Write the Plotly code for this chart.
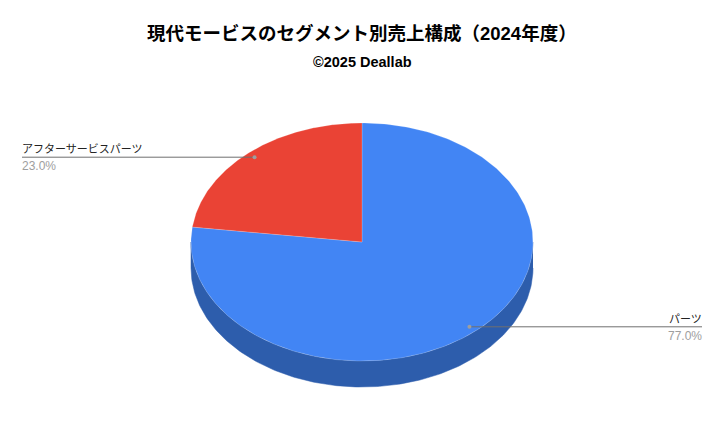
import numpy as np
import plotly.graph_objects as go

categories = ["パーツ", "アフターサービスパーツ"]
shares = [77.0, 23.0]
top_colors = ["#4285f4", "#ea4335"]
side_colors = ["#2d5dac", "#a42f25"]

FONT = "Liberation Sans, Noto Sans CJK JP, sans-serif"

# pie is drawn in pixel coordinates so the tilt can be faked with an ellipse
cx, cy = 362, 242
rx, ry = 171, 119
depth = 26


def pos(deg, k=1.0):
    a = np.radians(deg)
    return cx + k * rx * np.sin(a), cy - k * ry * np.cos(a)


fig = go.Figure()

# side wall first, only the front half can be seen
start = 0
for share, side in zip(shares, side_colors):
    end = start + share * 3.6
    lo, hi = max(start, 90), min(end, 270)
    if hi > lo:
        t = np.linspace(lo, hi, 200)
        x, y = pos(t)
        fig.add_trace(go.Scatter(
            x=np.r_[x, x[::-1]],
            y=np.r_[y, y[::-1] + depth],
            mode="lines",
            fill="toself",
            fillcolor=side,
            line=dict(color=side, width=0.5),
            hoverinfo="skip",
        ))
    start = end

# top of the pie
start = 0
for name, share, top in zip(categories, shares, top_colors):
    end = start + share * 3.6
    t = np.linspace(start, end, 300)
    x, y = pos(t)
    fig.add_trace(go.Scatter(
        x=np.r_[cx, x, cx],
        y=np.r_[cy, y, cy],
        mode="lines",
        fill="toself",
        fillcolor=top,
        line=dict(color="rgba(255,255,255,0.3)", width=0.6),
        name=name,
        text=f"{name}<br>{share:.1f}%",
        hoverinfo="text",
    ))
    start = end

# leader lines and labels
start = 0
for name, share in zip(categories, shares):
    mid = start + share * 1.8
    start += share * 3.6
    dx, dy = pos(mid, 0.95)
    right = dx > cx
    edge = 702 if right else 22
    shift = 2 if right else -2
    fig.add_trace(go.Scatter(
        x=[dx, edge],
        y=[dy, dy],
        mode="lines",
        line=dict(color="#6f6f6f", width=1),
        hoverinfo="skip",
    ))
    fig.add_trace(go.Scatter(
        x=[dx],
        y=[dy],
        mode="markers",
        marker=dict(color="#9e9e9e", size=4),
        hoverinfo="skip",
    ))
    fig.add_annotation(
        x=edge, y=dy, text=name, showarrow=False,
        xanchor="right" if right else "left", yanchor="bottom",
        xshift=shift, font=dict(size=11, color="#222222", family=FONT),
    )
    fig.add_annotation(
        x=edge, y=dy, text=f"{share:.1f}%", showarrow=False,
        xanchor="right" if right else "left", yanchor="top",
        xshift=shift, font=dict(size=12, color="#9e9e9e", family=FONT),
    )

fig.add_annotation(
    x=362, y=33, text="<b>現代モービスのセグメント別売上構成（2024年度）</b>",
    showarrow=False, font=dict(size=18.5, color="#000000", family=FONT),
)
fig.add_annotation(
    x=362, y=62, text="<b>©2025 Deallab</b>",
    showarrow=False, font=dict(size=14.5, color="#000000", family=FONT),
)

# the page keeps its 8px body margin, so the ranges start at 8
fig.update_layout(
    width=724,
    height=448,
    margin=dict(l=0, r=0, t=0, b=0),
    showlegend=False,
    paper_bgcolor="#ffffff",
    plot_bgcolor="#ffffff",
    xaxis=dict(range=[8, 732], visible=False, fixedrange=True),
    yaxis=dict(range=[456, 8], visible=False, fixedrange=True),
)

fig.write_html("out.html")
